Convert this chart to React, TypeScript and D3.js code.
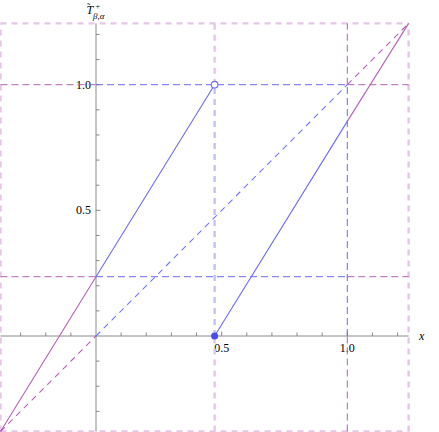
import React from 'react';
import * as d3 from 'd3';

// plot range (both axes) and the map's features
const plotRange = [-0.38, 1.244];
const jumpAt = 0.472;
const hLevels = [0.236, 1];       // horizontal dashed guides
const vLevels = [1];              // vertical dashed guides
const unitBreaks = [0, 1];        // guides change colour inside [0,1]

// branches of the map: inside the unit square (blue) and outside (purple)
const branchesIn = [
  [[0, 0.236], [0.472, 1]],
  [[0.472, 0], [1, 0.854]],
];
const branchesOut = [
  [[-0.38, -0.38], [0, 0.236]],
  [[1, 0.854], [1.244, 1.244]],
];

const xTicks = [-0.3, -0.2, -0.1, 0.1, 0.2, 0.3, 0.4, 0.5, 0.6, 0.7, 0.8, 0.9, 1.0, 1.1, 1.2];
const yTicks = [-0.3, -0.2, -0.1, 0.1, 0.2, 0.3, 0.4, 0.5, 0.6, 0.7, 0.8, 0.9, 1.0, 1.1, 1.2];
const xTickLabels = [0.5, 1.0];
const yTickLabels = [0.5, 1.0];

const W = 439, H = 432;
const BLUE = '#6b6bf5';
const DIAG_BLUE = '#7474ff';
const PURPLE = '#b462b4';
const PALE_PINK = '#e6c6e6';
const PALE_BLUE = '#c2c2fb';
const AXIS = '#8a8a8a';

const App = () => {
  const x = d3.scaleLinear().domain([0, 1]).range([96, 347.3]);
  const y = d3.scaleLinear().domain([0, 1]).range([336, 84.7]);
  const line = d3.line<number[]>().x(d => x(d[0])).y(d => y(d[1]));
  const [lo, hi] = plotRange;
  const [b0, b1] = unitBreaks;

  // split a span into the parts outside / inside the unit interval
  const pieces = [
    { from: lo, to: b0, inside: false },
    { from: b0, to: b1, inside: true },
    { from: b1, to: hi, inside: false },
  ];

  const thin = { strokeWidth: 1, strokeDasharray: '7,4', fill: 'none' };
  const wide = { strokeWidth: 2.4, strokeDasharray: '6,5', fill: 'none' };

  return (
    <svg width={W} height={H} style={{ position: 'absolute', left: 0, top: 0, background: '#fff' }}>
      {/* axes */}
      <line x1={x(lo)} x2={x(hi)} y1={y(0)} y2={y(0)} stroke={AXIS} strokeWidth={1} />
      <line x1={x(0)} x2={x(0)} y1={y(lo)} y2={y(hi)} stroke={AXIS} strokeWidth={1} />
      {xTicks.map(t => (
        <line key={'xt' + t} x1={x(t)} x2={x(t)} y1={y(0)} y2={y(0) - (xTickLabels.includes(t) ? 4.5 : 3.5)} stroke={AXIS} />
      ))}
      {yTicks.map(t => (
        <line key={'yt' + t} x1={x(0)} x2={x(0) + (yTickLabels.includes(t) ? 4.5 : 3.5)} y1={y(t)} y2={y(t)} stroke={AXIS} />
      ))}
      <g fontFamily="'Liberation Serif', 'DejaVu Serif', serif" fontSize={12} fill="#000">
        {xTickLabels.map(t => (
          <text key={'xl' + t} x={x(t)} y={y(0) + 16} textAnchor="middle">{t.toFixed(1)}</text>
        ))}
        {yTickLabels.map(t => (
          <text key={'yl' + t} x={x(0) - 5} y={y(t) + 4} textAnchor="end">{t.toFixed(1)}</text>
        ))}
        <text x={419} y={340} fontStyle="italic">x</text>
        <text x={86.5} y={13.5} fontStyle="italic" fontSize={12}>T</text>
        <text x={87} y={11} fontSize={10}>˜</text>
        <text x={95.5} y={9} fontSize={8}>+</text>
        <text x={93} y={18.5} fontSize={9} fontStyle="italic">β,α</text>
      </g>

      {/* frame and jump guides, wide pale dashes */}
      <line x1={x(lo)} x2={x(lo)} y1={y(lo)} y2={y(hi)} stroke={PALE_PINK} {...wide} />
      <line x1={x(hi)} x2={x(hi)} y1={y(lo)} y2={y(hi)} stroke={PALE_PINK} {...wide} />
      <line x1={x(lo)} x2={x(hi)} y1={y(hi)} y2={y(hi)} stroke={PALE_PINK} {...wide} />
      <line x1={x(lo)} x2={x(hi)} y1={y(lo)} y2={y(lo)} stroke={PALE_PINK} {...wide} />
      {pieces.map((p, i) => (
        <line key={'jv' + i} x1={x(jumpAt)} x2={x(jumpAt)} y1={y(p.from)} y2={y(p.to)}
          stroke={p.inside ? PALE_BLUE : PALE_PINK} {...wide} />
      ))}

      {/* thin dashed guides */}
      {hLevels.map(l => pieces.map((p, i) => (
        <line key={'h' + l + i} x1={x(p.from)} x2={x(p.to)} y1={y(l)} y2={y(l)}
          stroke={p.inside ? BLUE : PURPLE} {...thin} />
      )))}
      {vLevels.map(l => pieces.map((p, i) => (
        <line key={'v' + l + i} x1={x(l)} x2={x(l)} y1={y(p.from)} y2={y(p.to)}
          stroke={p.inside ? BLUE : PURPLE} {...thin} />
      )))}
      {pieces.map((p, i) => (
        <path key={'d' + i} d={line([[p.from, p.from], [p.to, p.to]]) || ''}
          stroke={p.inside ? DIAG_BLUE : PURPLE} strokeWidth={1.1} strokeDasharray="6,5" fill="none" />
      ))}

      {/* the map */}
      {branchesOut.map((s, i) => (
        <path key={'bo' + i} d={line(s) || ''} stroke={PURPLE} strokeWidth={1.1} fill="none" />
      ))}
      {branchesIn.map((s, i) => (
        <path key={'bi' + i} d={line(s) || ''} stroke={BLUE} strokeWidth={1.1} fill="none" />
      ))}
      <circle cx={x(branchesIn[0][1][0])} cy={y(branchesIn[0][1][1])} r={3.3} fill="#fff" stroke={BLUE} strokeWidth={1.1} />
      <circle cx={x(branchesIn[1][0][0])} cy={y(branchesIn[1][0][1])} r={3.5} fill="#4a4af5" />
    </svg>
  );
};

export default App;
